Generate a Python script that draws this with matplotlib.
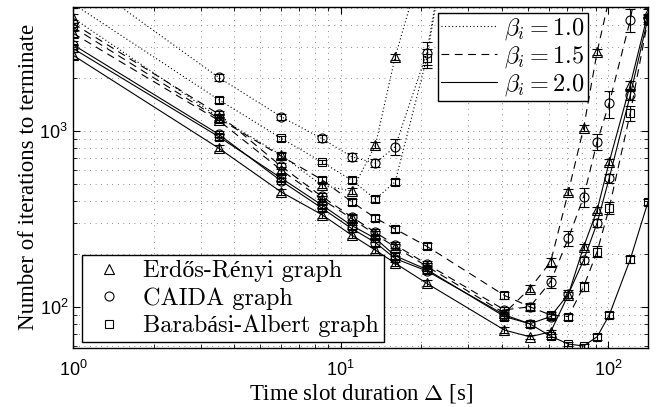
import numpy as np
import matplotlib
matplotlib.use("Agg")
import matplotlib.pyplot as plt
from matplotlib.lines import Line2D

plt.rcParams['font.family'] = ['Liberation Sans', 'DejaVu Sans']
plt.rcParams['mathtext.fontset'] = 'cm'

# time slot durations (s)
x = [1, 3.5, 6, 8.5, 11, 13.5, 16, 21, 41, 51, 61, 71, 81, 91, 101, 121, 141]

# beta_i = 1.0 (dotted)
er_b10 = [4400, 1200, 730, 493, 455, 832, 2640, 11000]
ca_b10 = [8000, 2020, 1206, 908, 714, 657, 815, 2780, 1e6]
ba_b10 = [5300, 1510, 910, 668, 526, 410, 514, 2600, 1e6]
er_b10_err = [0.06, 0.04, 0.04, 0.04, 0.04, 0.04, 0.04, 0.04]
ca_b10_err = [0.06, 0.04, 0.04, 0.04, 0.05, 0.05, 0.10, 0.15, 0.0]
ba_b10_err = [0.05, 0.04, 0.03, 0.03, 0.04, 0.04, 0.04, 0.12, 0.0]

# beta_i = 1.5 (dashed)
er_b15 = [3600, 1150, 600, 410, 318, 258, 219, 170, 92, 127, 180, 449, 1040, 2820, 5700]
ca_b15 = [4100, 1250, 630, 425, 325, 265, 225, 175, 96, 100, 139, 245, 421, 869, 1440, 4280, 15000]
ba_b15 = [3900, 1180, 720, 530, 396, 320, 277, 221, 116, 100, 89.7, 88, 130, 206, 365, 1264, 4300]
er_b15_err = [0.05, 0.04, 0.04, 0.04, 0.04, 0.04, 0.04, 0.04, 0.04, 0.05, 0.05, 0.04, 0.04, 0.04, 0.05]
ca_b15_err = [0.05, 0.04, 0.04, 0.04, 0.04, 0.04, 0.04, 0.04, 0.04, 0.05, 0.08, 0.10, 0.12, 0.10, 0.18, 0.15, 0.0]
ba_b15_err = [0.05, 0.04, 0.04, 0.04, 0.04, 0.04, 0.04, 0.04, 0.04, 0.04, 0.04, 0.04, 0.06, 0.07, 0.08, 0.10, 0.06]

# beta_i = 2.0 (solid)
er_b20 = [2700, 800, 450, 335, 256, 210, 177, 136, 73.7, 67.5, 72, 117, 219, 355, 668, 1828, 4700]
ca_b20 = [3100, 960, 520, 365, 279, 232, 188, 160, 90, 80, 88, 118, 184, 300, 540, 1600, 4400]
ba_b20 = [2950, 930, 540, 380, 290, 245, 195, 163, 88, 80, 68, 61.4, 59.8, 67.5, 89.7, 186, 395]
er_b20_err = [0.05, 0.04, 0.04, 0.04, 0.04, 0.04, 0.04, 0.04, 0.04, 0.03, 0.03, 0.04, 0.04, 0.04, 0.04, 0.05, 0.05]
ca_b20_err = [0.05, 0.04, 0.04, 0.04, 0.04, 0.04, 0.04, 0.04, 0.04, 0.04, 0.04, 0.05, 0.05, 0.05, 0.06, 0.06, 0.05]
ba_b20_err = [0.05, 0.04, 0.04, 0.04, 0.04, 0.04, 0.04, 0.04, 0.04, 0.04, 0.03, 0.03, 0.03, 0.04, 0.04, 0.04, 0.04]

dotted = (0, (1, 2.2))
dashed = (0, (7, 5))
curves = [
    (er_b10, er_b10_err, '^', dotted),
    (ca_b10, ca_b10_err, 'o', dotted),
    (ba_b10, ba_b10_err, 's', dotted),
    (er_b15, er_b15_err, '^', dashed),
    (ca_b15, ca_b15_err, 'o', dashed),
    (ba_b15, ba_b15_err, 's', dashed),
    (er_b20, er_b20_err, '^', '-'),
    (ca_b20, ca_b20_err, 'o', '-'),
    (ba_b20, ba_b20_err, 's', '-'),
]
msizes = {'^': 6.5, 'o': 6.5, 's': 5.5}

fig = plt.figure(figsize=(6.56, 4.07), dpi=100)
ax = fig.add_axes([0.1113, 0.1457, 0.8765, 0.8371])

for vals, rel, mk, ls in curves:
    xs = np.array(x[:len(vals)])
    ys = np.array(vals, dtype=float)
    ax.errorbar(xs, ys, yerr=ys * np.array(rel), color='k', linestyle=ls, lw=0.8,
                marker=mk, ms=msizes[mk], mfc='none', mec='k', mew=0.8,
                elinewidth=0.8, capsize=3.5, capthick=0.8)

ax.set_xscale('log')
ax.set_yscale('log')
ax.set_xlim(1, 141)
ax.set_ylim(58.5, 5080)

ax.grid(True, which='both', color='0.15', linestyle=(0, (1, 7)), lw=0.5)
ax.tick_params(which='both', direction='in', top=True, right=True, labelsize=13)
ax.tick_params(axis='x', which='major', pad=9)
ax.tick_params(which='major', length=5, width=0.8)
ax.tick_params(which='minor', length=3, width=0.6)
ax.minorticks_on()
for sp in ax.spines.values():
    sp.set_linewidth(1.0)

ax.set_xlabel(r'Time slot duration $\Delta$ [s]', family='Liberation Serif', fontsize=16.5, labelpad=1)
ax.set_ylabel('Number of iterations to terminate', family='Liberation Serif', fontsize=16.5, labelpad=0)

beta_labels = [r'$\beta_i = 1.0$', r'$\beta_i = 1.5$', r'$\beta_i = 2.0$']
beta_styles = [dotted, dashed, '-']
h1 = [Line2D([], [], color='k', lw=0.8, linestyle=s) for s in beta_styles]
leg1 = ax.legend(h1, beta_labels, loc='upper right', bbox_to_anchor=(0.8957, 0.9824),
                 borderaxespad=0, fontsize=17.5, handlelength=2.3, handletextpad=0.3,
                 labelspacing=0.1, borderpad=0.12, fancybox=False, framealpha=1,
                 edgecolor='k')
leg1.get_frame().set_linewidth(1.0)
ax.add_artist(leg1)

graph_labels = ['Erdős-Rényi graph', 'CAIDA graph', 'Barabási-Albert graph']
graph_markers = ['^', 'o', 's']
h2 = [Line2D([], [], color='k', ls='none', marker=m, ms=msizes[m], mfc='none', mew=0.8)
      for m in graph_markers]
leg2 = ax.legend(h2, graph_labels, loc='lower left', bbox_to_anchor=(0.0157, 0.0167),
                 borderaxespad=0, prop=dict(family=['cmr10', 'Liberation Serif'], size=17.5),
                 handlelength=1.8, handletextpad=0.5, labelspacing=0.2, borderpad=0.2,
                 fancybox=False, framealpha=1, edgecolor='k')
leg2.get_frame().set_linewidth(1.0)

fig.savefig('out.png', dpi=100)
